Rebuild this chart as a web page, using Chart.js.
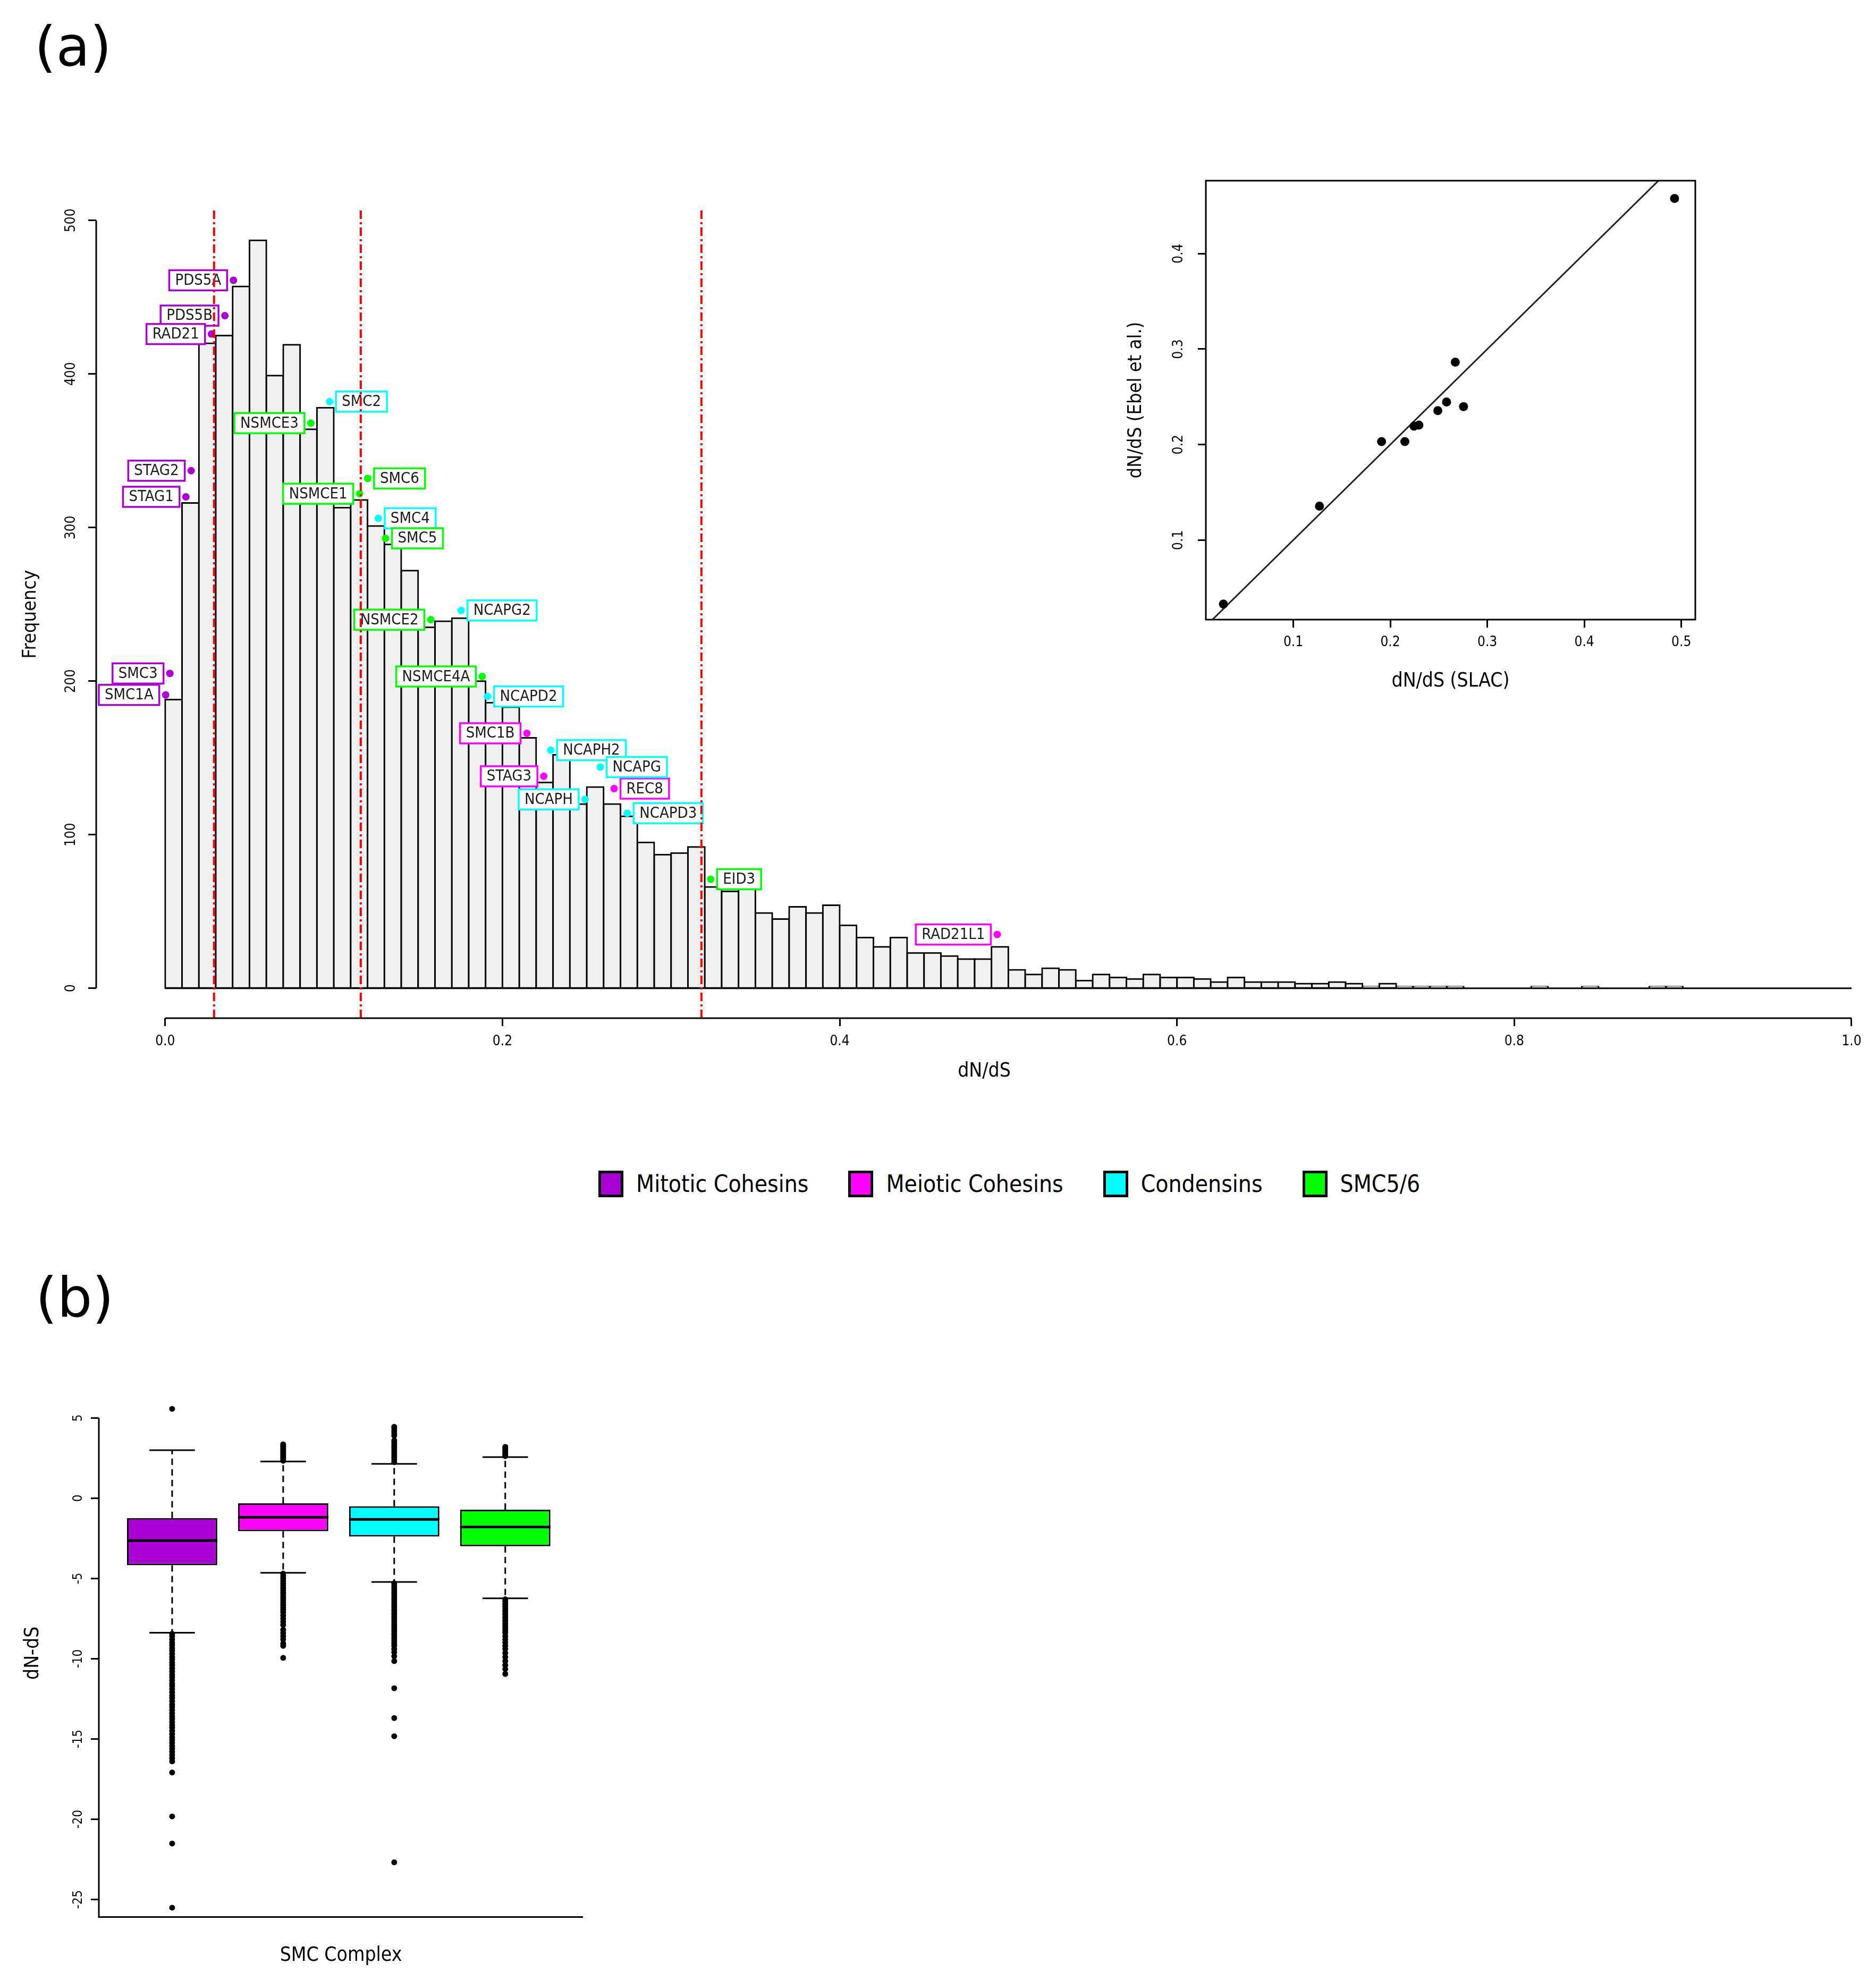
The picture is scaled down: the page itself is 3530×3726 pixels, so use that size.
<!DOCTYPE html>
<html>
<head>
<meta charset="utf-8">
<script src="https://cdn.jsdelivr.net/npm/chart.js@4.3.0/dist/chart.umd.min.js"></script>
<style>
  html, body { margin: 0; padding: 0; background: #fff; }
  body { width: 3530px; height: 3726px; position: relative; overflow: hidden; }
  canvas { position: absolute; }
  .panel { position: absolute; font-family: "DejaVu Sans", sans-serif; font-size: 104px; line-height: 1; color: #000; }
  #legend { position: absolute; left: 1126px; top: 2202px; display: flex; align-items: center;
            font-family: "DejaVu Sans Condensed", "DejaVu Sans", sans-serif; font-size: 44px; color: #000; }
  .key { display: flex; align-items: center; margin-right: 75px; }
  .swatch { width: 37px; height: 40px; border: 5px solid #000; margin-right: 24px; }
</style>
</head>
<body>
<div class="panel" style="left:65px; top:36px;">(a)</div>
<div class="panel" style="left:67px; top:2390px;">(b)</div>
<canvas id="hist" width="3530" height="2100" style="left:0; top:0;"></canvas>
<canvas id="inset" width="1200" height="1050" style="left:2050px; top:300px;"></canvas>
<div id="legend"></div>
<canvas id="box" width="1150" height="1176" style="left:0; top:2550px;"></canvas>
<script>
// ---- histogram of dN/dS (bins of 0.01 starting at 0) ----
const binWidth = 0.01;
const binCounts = [
  188, 316, 420, 425, 457, 487, 399, 419, 364, 378,
  313, 318, 301, 289, 272, 235, 239, 241, 200, 186,
  183, 163, 134, 152, 120, 131, 120, 112, 95, 87,
  88, 92, 66, 63, 65, 49, 45, 53, 49, 54,
  41, 33, 27, 33, 23, 23, 21, 19, 19, 27,
  12, 9, 13, 12, 5, 9, 7, 6, 9, 7,
  7, 6, 4, 7, 4, 4, 4, 3, 3, 4,
  3, 1, 3, 1, 1, 1, 1, 0, 0, 0,
  0, 1, 0, 0, 1, 0, 0, 0, 1, 1,
  0, 0, 0, 0, 0, 0, 0, 0, 0, 0
];
const histXTicks = [0, 0.2, 0.4, 0.6, 0.8, 1.0];
const histYTicks = [0, 100, 200, 300, 400, 500];
const cutoffs = [0.029, 0.116, 0.318];

// genes marked on the histogram
const geneNames = ['PDS5A', 'PDS5B', 'RAD21', 'STAG2', 'STAG1', 'SMC3', 'SMC1A',
  'SMC1B', 'STAG3', 'REC8', 'RAD21L1',
  'SMC2', 'SMC4', 'NCAPG2', 'NCAPD2', 'NCAPH2', 'NCAPG', 'NCAPH', 'NCAPD3',
  'NSMCE3', 'NSMCE1', 'SMC6', 'SMC5', 'NSMCE2', 'NSMCE4A', 'EID3'];
const geneX = [0.0405, 0.0354, 0.0274, 0.0154, 0.0123, 0.0028, 0.0003,
  0.2145, 0.2245, 0.2662, 0.4934,
  0.0975, 0.1264, 0.1755, 0.1912, 0.2286, 0.258, 0.249, 0.274,
  0.0864, 0.1153, 0.1201, 0.1307, 0.1575, 0.188, 0.3235];
const geneY = [461, 438, 426, 337, 320, 205, 191,
  166, 138, 130, 35,
  382, 306, 246, 190, 155, 144, 123, 114,
  368, 322, 332, 293, 240, 203, 71];
const geneGroup = [0, 0, 0, 0, 0, 0, 0,
  1, 1, 1, 1,
  2, 2, 2, 2, 2, 2, 2, 2,
  3, 3, 3, 3, 3, 3, 3];
const geneSide = ['L', 'L', 'L', 'L', 'L', 'L', 'L',
  'L', 'L', 'R', 'L',
  'R', 'R', 'R', 'R', 'R', 'R', 'L', 'R',
  'L', 'L', 'R', 'R', 'L', 'L', 'R'];

// SMC complexes (legend + boxplot)
const groupNames = ['Mitotic Cohesins', 'Meiotic Cohesins', 'Condensins', 'SMC5/6'];
const groupColors = ['#AA00D6', '#FF00FF', '#00FFFF', '#00FF00'];

// ---- inset: SLAC vs Ebel et al. ----
const slacX = [0.028, 0.127, 0.191, 0.215, 0.2245, 0.2295, 0.249, 0.258, 0.267, 0.2755, 0.493];
const ebelY = [0.033, 0.1355, 0.2032, 0.2032, 0.2193, 0.2204, 0.2356, 0.2446, 0.2863, 0.2398, 0.4577];
const insetXTicks = [0.1, 0.2, 0.3, 0.4, 0.5];
const insetYTicks = [0.1, 0.2, 0.3, 0.4];

// ---- boxplot: dN-dS per complex ----
const boxQ1 = [-4.18, -2.06, -2.39, -2.99];
const boxMedian = [-2.64, -1.19, -1.32, -1.79];
const boxQ3 = [-1.24, -0.32, -0.5, -0.72];
const whiskerLow = [-8.38, -4.65, -5.22, -6.24];
const whiskerHigh = [2.99, 2.29, 2.14, 2.56];
const mitoticOut = [5.57,
  -8.45, -8.6, -8.8, -9.0, -9.15, -9.35, -9.5, -9.7, -9.9, -10.05, -10.25, -10.4, -10.6, -10.8,
  -11.0, -11.15, -11.35, -11.55, -11.7, -11.9, -12.1, -12.3, -12.45, -12.65, -12.85, -13.0,
  -13.2, -13.4, -13.6, -13.75, -13.95, -14.15, -14.3, -14.5, -14.7, -14.9, -15.05, -15.25,
  -15.45, -15.6, -15.8, -16.0, -16.2, -16.4,
  -17.09, -19.83, -21.52, -25.52];
const meioticOut = [3.36, 3.28, 3.2, 3.1, 3.0, 2.9, 2.8, 2.7, 2.6, 2.5, 2.4, 2.33,
  -4.7, -4.85, -5.0, -5.15, -5.3, -5.45, -5.6, -5.75, -5.9, -6.05, -6.2, -6.35, -6.5, -6.65,
  -6.8, -6.95, -7.1, -7.3, -7.5, -7.7, -7.9, -8.2, -8.4, -8.6, -8.8, -9.05, -9.2, -9.95];
const condensinOut = [4.45, 4.35, 4.2, 4.05, 3.9, 3.6, 3.45, 3.3, 3.15, 3.0, 2.85, 2.7, 2.55, 2.4, 2.25,
  -5.3, -5.45, -5.6, -5.75, -5.9, -6.05, -6.2, -6.35, -6.5, -6.65, -6.8, -6.95, -7.1, -7.25,
  -7.4, -7.55, -7.7, -7.85, -8.0, -8.15, -8.3, -8.45, -8.6, -8.75, -8.9, -9.05, -9.2, -9.4,
  -9.6, -9.85, -10.15,
  -11.84, -13.7, -14.83, -22.69];
const smc56Out = [3.2, 3.1, 3.0, 2.9, 2.8, 2.7, 2.62,
  -6.3, -6.45, -6.6, -6.75, -6.9, -7.05, -7.2, -7.35, -7.5, -7.65, -7.8, -7.95, -8.1, -8.25,
  -8.4, -8.6, -8.8, -9.0, -9.2, -9.4, -9.65, -9.9, -10.15, -10.4, -10.65, -10.95];
const boxOutliers = [mitoticOut, meioticOut, condensinOut, smc56Out];
const boxYTicks = [5, 0, -5, -10, -15, -20, -25];

const FONT = '"DejaVu Sans Condensed", "DejaVu Sans", sans-serif';
Chart.defaults.font.family = FONT;
Chart.defaults.color = '#000';
Chart.defaults.plugins.legend.display = false;
Chart.defaults.plugins.tooltip.enabled = false;

const tickGrid = { display: true, drawOnChartArea: false, offset: false, tickLength: 15, tickWidth: 3, tickColor: '#000' };

// ---------- (a) histogram ----------
const histYMin = -19.5, histYMax = 506.5;

const histPlugin = {
  id: 'histDecor',
  // boxed gene labels, drawn right after the bars
  afterDatasetDraw(chart, args) {
    if (args.index !== 0) return;
    const { ctx, scales: { x, y } } = chart;
    ctx.save();
    ctx.font = '29px ' + FONT;
    ctx.textAlign = 'center';
    ctx.textBaseline = 'middle';
    geneNames.forEach((name, i) => {
      const px = x.getPixelForValue(geneX[i]);
      const py = y.getPixelForValue(geneY[i]);
      const w = ctx.measureText(name).width + 22;
      const h = 38;
      const bx = geneSide[i] === 'L' ? px - 12 - w : px + 12;
      ctx.fillStyle = '#fff';
      ctx.fillRect(bx, py - h / 2, w, h);
      ctx.lineWidth = 3.5;
      ctx.strokeStyle = groupColors[geneGroup[i]];
      ctx.strokeRect(bx, py - h / 2, w, h);
      ctx.fillStyle = '#1a1a1a';
      ctx.fillText(name, bx + w / 2, py + 1);
    });
    ctx.restore();
  },
  // R style axis lines (first to last tick)
  afterDraw(chart) {
    const { ctx, chartArea, scales: { x, y } } = chart;
    ctx.save();
    ctx.strokeStyle = '#000';
    ctx.lineWidth = 3;
    ctx.beginPath();
    ctx.moveTo(x.getPixelForValue(histXTicks[0]), chartArea.bottom);
    ctx.lineTo(x.getPixelForValue(histXTicks[histXTicks.length - 1]), chartArea.bottom);
    ctx.moveTo(chartArea.left, y.getPixelForValue(histYTicks[0]));
    ctx.lineTo(chartArea.left, y.getPixelForValue(histYTicks[histYTicks.length - 1]));
    ctx.stroke();
    ctx.restore();
  }
};

const histDatasets = [
  {
    type: 'bar',
    data: binCounts.map((c, i) => ({ x: (i + 0.5) * binWidth, y: c })),
    backgroundColor: '#F0F0F0',
    borderColor: '#000',
    borderWidth: 3,
    borderSkipped: false,
    inflateAmount: 1.5,
    barPercentage: 1,
    categoryPercentage: 1,
    order: 4
  },
  {
    type: 'line',
    data: [{ x: 0, y: 0 }, { x: binCounts.length * binWidth, y: 0 }],
    borderColor: '#000',
    borderWidth: 3,
    pointRadius: 0,
    order: 3
  },
  {
    type: 'line',
    showLine: false,
    data: geneNames.map((n, i) => ({ x: geneX[i], y: geneY[i] })),
    pointBackgroundColor: geneGroup.map(g => groupColors[g]),
    pointBorderWidth: 0,
    pointRadius: 7,
    order: 2
  }
];
cutoffs.forEach(c => {
  histDatasets.push({
    type: 'line',
    data: [{ x: c, y: histYMin }, { x: c, y: histYMax }],
    borderColor: '#FF0000',
    borderWidth: 4,
    borderDash: [16, 6, 4, 6],
    pointRadius: 0,
    order: 1
  });
});

new Chart(document.getElementById('hist'), {
  type: 'bar',
  data: { datasets: histDatasets },
  options: {
    responsive: false,
    devicePixelRatio: 1,
    animation: false,
    layout: { padding: { top: 396, left: 0, right: 0, bottom: 0 } },
    scales: {
      x: {
        type: 'linear', min: -0.0409, max: 1.0123, offset: false,
        afterFit: s => { s.height = 184; },
        afterBuildTicks: s => { s.ticks = histXTicks.map(v => ({ value: v })); },
        grid: tickGrid,
        border: { display: false },
        ticks: { font: { size: 26 }, padding: 14, maxRotation: 0, autoSkip: false, callback: v => v.toFixed(1) },
        title: { display: true, text: 'dN/dS', font: { size: 37 }, padding: { top: 0, bottom: 61 } }
      },
      y: {
        type: 'linear', min: histYMin, max: histYMax,
        afterFit: s => { s.width = 181; },
        afterBuildTicks: s => { s.ticks = histYTicks.map(v => ({ value: v })); },
        grid: tickGrid,
        border: { display: false },
        ticks: { font: { size: 26 }, minRotation: 90, maxRotation: 90, crossAlign: 'center', padding: 9, autoSkip: false, callback: v => String(v) },
        title: { display: true, text: 'Frequency', font: { size: 36 }, padding: { top: 36, bottom: 0 } }
      }
    }
  },
  plugins: [histPlugin]
});

// ---------- inset scatter ----------
const insetPlugin = {
  id: 'insetBox',
  afterDraw(chart) {
    const { ctx, chartArea: a } = chart;
    ctx.save();
    ctx.strokeStyle = '#000';
    ctx.lineWidth = 3;
    ctx.strokeRect(a.left, a.top, a.right - a.left, a.bottom - a.top);
    ctx.restore();
  }
};

new Chart(document.getElementById('inset'), {
  type: 'scatter',
  data: {
    datasets: [
      {
        type: 'line',
        data: [{ x: 0, y: 0 }, { x: 1, y: 1 }], // y = x reference line
        borderColor: '#222',
        borderWidth: 3,
        pointRadius: 0,
        order: 2
      },
      {
        data: slacX.map((v, i) => ({ x: v, y: ebelY[i] })),
        pointBackgroundColor: '#000',
        pointBorderWidth: 0,
        pointRadius: 8.5,
        order: 1
      }
    ]
  },
  options: {
    responsive: false,
    devicePixelRatio: 1,
    animation: false,
    layout: { padding: { top: 40, left: 0, right: 60, bottom: 0 } },
    scales: {
      x: {
        type: 'linear', min: 0.0099, max: 0.5144,
        afterFit: s => { s.height = 184; },
        afterBuildTicks: s => { s.ticks = insetXTicks.map(v => ({ value: v })); },
        grid: tickGrid,
        border: { display: false },
        ticks: { font: { size: 26 }, padding: 13, maxRotation: 0, autoSkip: false, callback: v => v.toFixed(1) },
        title: { display: true, text: 'dN/dS (SLAC)', font: { size: 37 }, padding: { top: 0, bottom: 45 } }
      },
      y: {
        type: 'linear', min: 0.0167, max: 0.4764,
        afterFit: s => { s.width = 219; },
        afterBuildTicks: s => { s.ticks = insetYTicks.map(v => ({ value: v })); },
        grid: tickGrid,
        border: { display: false },
        ticks: { font: { size: 26 }, minRotation: 90, maxRotation: 90, crossAlign: 'center', padding: 17, autoSkip: false, callback: v => v.toFixed(1) },
        title: { display: true, text: 'dN/dS (Ebel et al.)', font: { size: 36 }, padding: { top: 66, bottom: 0 } }
      }
    }
  },
  plugins: [insetPlugin]
});

// ---------- legend ----------
const legendEl = document.getElementById('legend');
groupNames.forEach((name, i) => {
  const key = document.createElement('div');
  key.className = 'key';
  key.innerHTML = `<div class="swatch" style="background:${groupColors[i]}"></div><span>${name}</span>`;
  legendEl.appendChild(key);
});

// ---------- (b) boxplot ----------
const boxPositions = groupNames.map((n, k) => k + 1);
const halfBox = 0.407, halfCap = 0.205;
const boxDatasets = [
  {
    type: 'bar',
    data: boxPositions.map((c, k) => ({ x: c, y: [boxQ1[k], boxQ3[k]] })),
    backgroundColor: groupColors,
    borderColor: '#000',
    borderWidth: 3,
    borderSkipped: false,
    barPercentage: 0.813,
    categoryPercentage: 1,
    order: 5
  }
];
const seg = (pts, width, dash, order) => ({
  type: 'line', data: pts, borderColor: '#000', borderWidth: width,
  borderDash: dash, pointRadius: 0, order: order
});
boxPositions.forEach((c, k) => {
  boxDatasets.push(seg([{ x: c - halfBox, y: boxMedian[k] }, { x: c + halfBox, y: boxMedian[k] }], 5, [], 1));
  boxDatasets.push(seg([{ x: c, y: boxQ3[k] }, { x: c, y: whiskerHigh[k] }], 3, [12, 8], 2));
  boxDatasets.push(seg([{ x: c, y: boxQ1[k] }, { x: c, y: whiskerLow[k] }], 3, [12, 8], 2));
  boxDatasets.push(seg([{ x: c - halfCap, y: whiskerHigh[k] }, { x: c + halfCap, y: whiskerHigh[k] }], 3, [], 2));
  boxDatasets.push(seg([{ x: c - halfCap, y: whiskerLow[k] }, { x: c + halfCap, y: whiskerLow[k] }], 3, [], 2));
  boxDatasets.push({
    type: 'line', showLine: false,
    data: boxOutliers[k].map(v => ({ x: c, y: v })),
    pointBackgroundColor: '#000', pointBorderWidth: 0, pointRadius: 5.5, order: 0
  });
});

const boxPlugin = {
  id: 'boxAxes',
  afterDraw(chart) {
    const { ctx, chartArea: a, scales: { y } } = chart;
    ctx.save();
    ctx.strokeStyle = '#000';
    ctx.lineWidth = 3;
    ctx.beginPath();
    ctx.moveTo(a.left, y.getPixelForValue(boxYTicks[0]));
    ctx.lineTo(a.left, a.bottom);
    ctx.lineTo(a.right, a.bottom);
    ctx.stroke();
    ctx.restore();
  }
};

new Chart(document.getElementById('box'), {
  type: 'bar',
  data: { datasets: boxDatasets },
  options: {
    responsive: false,
    devicePixelRatio: 1,
    animation: false,
    layout: { padding: { top: 64, left: 0, right: 53, bottom: 0 } },
    scales: {
      x: {
        type: 'linear', min: 0.34, max: 4.70, offset: false,
        afterFit: s => { s.height = 118.5; },
        // one (hidden) tick per box so the box width follows the box spacing
        afterBuildTicks: s => { s.ticks = boxPositions.map(v => ({ value: v })); },
        grid: { display: false },
        border: { display: false },
        ticks: { display: false },
        title: { display: true, text: 'SMC Complex', font: { size: 37 }, padding: { top: 0, bottom: 23 } }
      },
      y: {
        type: 'linear', min: -26.1, max: 6.8,
        afterFit: s => { s.width = 186; },
        afterBuildTicks: s => { s.ticks = boxYTicks.map(v => ({ value: v })); },
        grid: tickGrid,
        border: { display: false },
        ticks: { font: { size: 24 }, minRotation: 90, maxRotation: 90, crossAlign: 'center', padding: 6, autoSkip: false, callback: v => String(v) },
        title: { display: true, text: 'dN-dS', font: { size: 37 }, padding: { top: 40, bottom: 0 } }
      }
    }
  },
  plugins: [boxPlugin]
});
</script>
</body>
</html>
